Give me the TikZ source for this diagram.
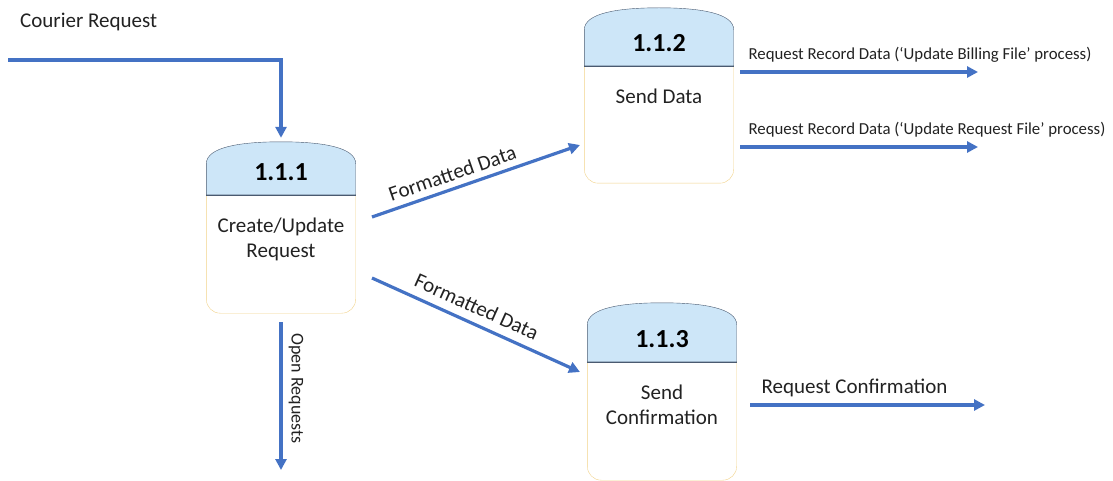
\documentclass[tikz,border=0pt]{standalone}
\usepackage{fontspec}
\setmainfont{Carlito}
\usepackage{xcolor}
\usepackage{tikz}
\usetikzlibrary{arrows.meta}

\definecolor{flowblue}{HTML}{4472C4}
\definecolor{headblue}{HTML}{CDE6F8}
\definecolor{headline}{HTML}{4A5A70}
\definecolor{bodyline}{HTML}{F1D289}
\definecolor{textgray}{HTML}{222222}

% process box: name, centre, height, header depth, number, text
\newcommand{\procbox}[6]{%
    \node[procnode, minimum height=#3] (#1) at (#2) {};
    \path[fill=headblue, draw=headline, thin]
        ([yshift=-22pt]#1.north west) .. controls ([yshift=-5pt]#1.north west) and ([xshift=35pt]#1.north west) .. (#1.north)
        .. controls ([xshift=-35pt]#1.north east) and ([yshift=-5pt]#1.north east) .. ([yshift=-22pt]#1.north east)
        -- ([yshift=-#4]#1.north east) -- ([yshift=-#4]#1.north west) -- cycle;
    \draw[bodyline, thin, rounded corners=14pt]
        ([yshift=-#4]#1.north west) -- (#1.south west) -- (#1.south east) -- ([yshift=-#4]#1.north east);
    \draw[headline, thin] ([yshift=-#4]#1.north west) -- ([yshift=-#4]#1.north east);
    \node[procnum] at ([yshift=-#4+23pt]#1.north) {#5};
    \node[proctext, anchor=north] at ([yshift=-#4-20pt]#1.north) {#6};
}

\begin{document}
\begin{tikzpicture}[x=1pt, y=-1pt,
    procnode/.style={rectangle, draw=none, minimum width=149pt, inner sep=0pt},
    procnum/.style={font=\fontsize{26}{30}\selectfont\bfseries, text=black},
    proctext/.style={font=\fontsize{21}{25}\selectfont, text=textgray, align=center},
    flow/.style={draw=flowblue, line width=3.2pt, -{Triangle[length=11pt, width=11pt]}}]
\useasboundingbox (0,0) rectangle (1113,481);

\procbox{p111}{281,227.5}{171pt}{53pt}{1.1.1}{Create/Update\\Request}
\procbox{p112}{659,95.5}{175pt}{58pt}{1.1.2}{Send Data}
\procbox{p113}{662,391.5}{177pt}{59pt}{1.1.3}{Send\\Confirmation}

\coordinate (crin) at (8,60);
\coordinate (fd1s) at (372,217);
\coordinate (fd1e) at (580,145);
\coordinate (fd2s) at (372,278);
\coordinate (fd2e) at (580,372);
\coordinate (ors) at (281,322);
\coordinate (ore) at (281,470);
\coordinate (rb1s) at (740,72);
\coordinate (rb1e) at (978,72);
\coordinate (rb2s) at (740,147);
\coordinate (rb2e) at (978,147);
\coordinate (rcs) at (750,405);
\coordinate (rce) at (985,405);

\begin{scope}[every node/.style={text=textgray, inner sep=2pt}]
    \node[anchor=west, font=\fontsize{21}{24}\selectfont] (crlab) at (18,22) {Courier Request};
    \draw[flow] (crin) -| ([yshift=4pt]p111.north);
    \path[flow] (fd1s) -- node[sloped, above=4pt, pos=0.41, font=\fontsize{21}{24}\selectfont] {Formatted Data} (fd1e);
    \path[flow] (fd2s) -- node[sloped, above=6pt, pos=0.47, font=\fontsize{21}{24}\selectfont] {Formatted Data} (fd2e);
    \path[flow] (ors) -- node[sloped, above=4pt, pos=0.45, font=\fontsize{18}{22}\selectfont] {Open Requests} (ore);
    \path[flow] (rb1s) -- node[pos=0, anchor=south west, xshift=5pt, yshift=6pt, font=\fontsize{16.8}{20}\selectfont] {Request Record Data (`Update Billing File' process)} (rb1e);
    \path[flow] (rb2s) -- node[pos=0, anchor=south west, xshift=5pt, yshift=6pt, font=\fontsize{16.8}{20}\selectfont] {Request Record Data (`Update Request File' process)} (rb2e);
    \path[flow] (rcs) -- node[pos=0, anchor=south west, xshift=8pt, yshift=5pt, font=\fontsize{21}{24}\selectfont] {Request Confirmation} (rce);
\end{scope}
\end{tikzpicture}
\end{document}
